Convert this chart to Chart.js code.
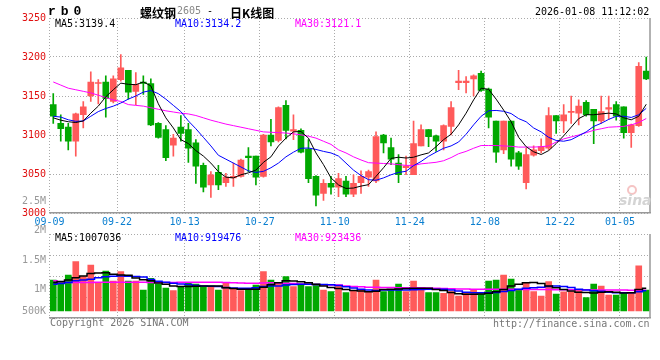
<!DOCTYPE html>
<html lang="zh-CN">
<head>
<meta charset="utf-8">
<title>螺纹钢2605 - 日K线图</title>
<script src="https://cdn.jsdelivr.net/npm/chart.js@4.4.1/dist/chart.umd.min.js"></script>
<style>
  html, body { margin: 0; padding: 0; background: #fff; }
  #quadro { position: relative; width: 660px; height: 360px; overflow: hidden; font-family: "DejaVu Sans Mono", monospace; font-size: 10px; }
  #quadro canvas { position: absolute; left: 0; top: 0; }
  .txt { position: absolute; white-space: pre; line-height: 12px; }
</style>
</head>
<body>
<div id="quadro">
  <canvas id="graficoPreco" width="660" height="360"></canvas>
  <canvas id="graficoVolume" width="660" height="360"></canvas>

  <div class="txt" style="left:48px;top:4px;font:bold 13px 'Liberation Mono';letter-spacing:5px;">rb0</div>
  <div class="txt" style="left:140px;top:4px;font:bold 12px 'Noto Sans CJK SC';">螺纹钢</div>
  <div class="txt" style="left:177px;top:5px;"><span style="color:#888;">2605</span> -</div>
  <div class="txt" style="left:230px;top:4px;font:bold 12px 'Noto Sans CJK SC';">日K线图</div>
  <div class="txt" style="left:535px;top:6px;">2026-01-08 11:12:02</div>

  <div class="txt" style="left:55px;top:18px;color:#000;">MA5:3139.4</div>
  <div class="txt" style="left:175px;top:18px;color:#0000ff;">MA10:3134.2</div>
  <div class="txt" style="left:295px;top:18px;color:#ff00ff;">MA30:3121.1</div>

  <div class="txt" style="left:55px;top:232px;color:#000;">MA5:1007036</div>
  <div class="txt" style="left:175px;top:232px;color:#0000ff;">MA10:919476</div>
  <div class="txt" style="left:295px;top:232px;color:#ff00ff;">MA30:923436</div>

  <div class="txt" style="left:50px;top:317px;color:#777;">Copyright 2026 SINA.COM</div>
  <div class="txt" style="left:493px;top:318px;color:#777;">http://finance.sina.com.cn</div>

  <div style="position:absolute;left:627px;top:185px;width:6px;height:6px;border:2px solid #f5c4c4;border-radius:50%;"></div>
  <div class="txt" style="left:619px;top:192px;font:italic bold 14px 'DejaVu Sans';color:#d4d4d4;">sina</div>
</div>

<script>
// datas dos pregões (eixo x)
const datas = ['09-09','09-10','09-11','09-12','09-15','09-16','09-17','09-18','09-19','09-22','09-23','09-24','09-25','09-26','09-29','09-30',
  '10-09','10-10','10-13','10-14','10-15','10-16','10-17','10-20','10-21','10-22','10-23','10-24','10-27','10-28','10-29','10-30','10-31',
  '11-03','11-04','11-05','11-06','11-07','11-10','11-11','11-12','11-13','11-14','11-17','11-18','11-19','11-20','11-21','11-24','11-25','11-26','11-27','11-28',
  '12-01','12-02','12-03','12-04','12-05','12-08','12-09','12-10','12-11','12-12','12-15','12-16','12-17','12-18','12-19','12-22','12-23','12-24','12-25','12-26','12-29','12-30','12-31',
  '01-05','01-06','01-07','01-08'];

// datas que aparecem como rótulo no eixo
const rotulosEixo = ['09-09','09-22','10-13','10-27','11-10','11-24','12-08','12-22','01-05'];

// cotações diárias
const abertura = [3139,3115,3110,3092,3126,3150,3166,3168,3143,3171,3183,3156,3168,3166,3115,3107,3087,3110,3107,3090,3061,3036,3052,
  3039,3045,3047,3073,3073,3047,3100,3093,3138,3105,3106,3082,3047,3025,3038,3033,3041,3024,3039,3046,3041,3100,3084,3064,3058,3049,3086,3107,3099,
  3092,3111,3167,3167,3172,3179,3159,3118,3081,3118,3077,3039,3074,3080,3083,3125,3118,3129,3128,3142,3133,3118,3133,3139,3136,3103,3112,3182];
const maxima = [3153,3126,3115,3128,3143,3181,3171,3176,3176,3203,3183,3180,3176,3172,3116,3112,3101,3125,3115,3094,3064,3053,3061,
  3051,3064,3069,3084,3073,3101,3120,3136,3144,3126,3108,3094,3048,3043,3047,3051,3047,3049,3054,3055,3104,3101,3096,3075,3073,3118,3113,3107,3100,
  3113,3143,3183,3175,3177,3182,3160,3118,3118,3118,3079,3083,3086,3095,3135,3125,3139,3150,3145,3144,3133,3150,3150,3143,3136,3114,3193,3200];
const minima = [3115,3092,3081,3073,3109,3143,3140,3123,3141,3169,3146,3139,3152,3112,3096,3067,3073,3092,3065,3038,3027,3020,3030,
  3034,3034,3046,3053,3036,3046,3086,3091,3095,3094,3077,3039,3009,3016,3024,3021,3021,3021,3025,3034,3039,3077,3062,3039,3049,3049,3086,3085,3079,
  3081,3100,3158,3154,3150,3156,3109,3065,3076,3060,3056,3031,3073,3077,3081,3102,3103,3115,3113,3124,3089,3115,3120,3119,3096,3084,3111,3171];
const fechamento = [3124,3108,3092,3127,3136,3168,3167,3147,3172,3186,3155,3165,3166,3113,3097,3071,3096,3102,3083,3060,3033,3049,3036,
  3046,3047,3068,3071,3046,3100,3091,3135,3106,3107,3078,3044,3023,3038,3033,3044,3024,3038,3047,3053,3098,3090,3069,3049,3060,3089,3107,3098,3092,
  3112,3135,3169,3169,3176,3157,3123,3078,3118,3069,3060,3075,3081,3085,3125,3118,3126,3130,3137,3126,3118,3130,3135,3124,3103,3113,3188,3172];

// médias móveis do preço
const ma5 = [3122,3119,3117,3116,3118,3128,3137,3149,3158,3166.5,3165,3164.5,3168,3163,3140,3122,3109,3094,3089,3080,3073,3064,3053,
  3046,3045,3049,3051.5,3055,3065,3072,3086,3096,3104,3104.5,3096,3077,3062,3045,3036,3031.5,3032,3034.5,3036.3,3047,3058,3070,3071.5,3070.5,3071.5,3074.5,3077,3085,
  3094,3101,3113,3128,3145,3160,3158.5,3146,3132,3117,3097,3085,3078.5,3075,3080,3089,3099,3110,3121,3126,3126,3127,3128,3127,3122,3119.5,3124,3139.4];
const ma10 = [3124,3123,3119.5,3117.5,3118,3124,3130,3134,3137,3141,3146,3150,3155,3157,3153,3146,3138,3130,3118,3108,3097,3086,3074,
  3069,3064,3059,3054,3052,3053.4,3058,3064,3072,3078,3083,3083.3,3081.5,3079,3077,3073,3064,3055,3048,3042.7,3042,3045,3049,3052,3053.5,3060.7,3066,3072.7,3078,
  3083,3086,3091,3101,3113,3124,3131,3131.5,3130.4,3127.5,3121,3117,3109,3104,3097,3093,3092,3094,3099,3104,3111,3115,3120,3124,3124,3122.5,3126,3134.2];
const ma30 = [3168,3164,3160,3158,3156,3154,3151,3148,3145,3143,3139,3138,3137,3135,3133,3131,3129.5,3128,3127,3125,3122,3119,3116.5,
  3114,3112,3110,3108,3106,3104,3103.5,3103,3102.5,3101.5,3100.2,3098.5,3096,3092,3088,3081,3077,3072,3068,3064.5,3064,3063.5,3063,3062,3061,3061,3063,3064,3065,
  3067,3071,3076,3079,3083,3086.5,3086.5,3086.5,3086,3085.5,3084.5,3084.5,3084.5,3085,3086,3091,3095,3097.5,3100,3103,3106,3108,3110,3110.5,3111,3113,3116,3121.1];

// volume (em milhares de lotes) e suas médias
const volume = [1161,1133,1246,1472,1218,1415,1121,1314,1144,1302,1144,1144,992,1189,1093,1025,980,1054,1121,1093,1048,1048,992,
  1116,1020,980,1003,1076,1302,1161,1121,1218,1048,1093,1048,1076,992,963,1076,946,980,1003,963,1161,963,1003,1093,963,1144,1037,946,946,
  935,963,890,935,1003,924,1144,1161,1246,1178,1003,1121,963,890,1133,924,960,965,990,862,1093,1060,907,907,935,940,1403,992];
const volMa5 = [1120,1135,1160,1200,1230,1270,1280,1285,1260,1245,1240,1195,1165,1150,1110,1090,1060,1050,1050,1055,1060,1060,1060,
  1030,1015,1003,1003,1003,1040,1080,1115,1150,1144,1130,1115,1090,1060,1035,1015,1000,985,975,960,970,1000,1003,1010,1015,1020,1020,1020,1000,
  985,950,930,920,918,925,935,960,1000,1060,1090,1115,1120,1100,1060,1030,1000,975,953,950,940,955,963,955,940,945,1000,1020];
const volMa10 = [1090,1100,1120,1150,1160,1175,1200,1215,1225,1230,1225,1220,1210,1170,1140,1125,1105,1095,1085,1070,1060,1055,1050,
  1035,1025,1020,1022,1028,1050,1058,1060,1075,1085,1088,1088,1085,1085,1080,1070,1045,1025,1003,990,982,990,990,990,990,995,1000,1005,1005,
  1003,990,975,955,947,946,946,950,965,985,1005,1020,1030,1037,1050,1060,1050,1035,1005,990,980,972,955,946,946,946,960,980];
const volMa30 = [1150,1130,1120,1120,1120,1120,1121,1121,1121,1121,1121,1121,1121,1120,1120,1120,1120,1121,1121,1121,1121,1121,1121,
  1120,1115,1110,1105,1105,1110,1115,1110,1105,1100,1095,1090,1085,1080,1078,1075,1060,1050,1045,1040,1037,1035,1032,1030,1030,1030,1030,1025,1020,
  1015,1012,1010,1008,1006,1005,1004,1003,1003,1003,1002,1001,1000,1000,999,998,997,996,995,994,993,992,991,990,990,989,988,988];

// faixa do eixo de volume e marcas de texto
const volMin = 517;
const volMax = 1941;
const volBase = 636;
const marcasVolume = [2500, 2000, 1500, 1000, 500];
const textosVolume = ['2.5M', '2M', '1.5M', '1M', '500K'];

const vermelho = '#ff5a5a';
const verde = '#00a800';
const cores = abertura.map((a, i) => fechamento[i] >= a ? vermelho : verde);
const corpos = abertura.map((a, i) => [a, fechamento[i]]);
const pavios = minima.map((m, i) => [m, maxima[i]]);

Chart.defaults.font.family = '"DejaVu Sans Mono", monospace';
Chart.defaults.font.size = 10;

// grade vertical só nas datas com rótulo
function corGradeX(ctx) {
  return rotulosEixo.includes(datas[ctx.index]) ? '#aaa' : 'transparent';
}

// linha cheia na borda direita do painel
const molduraDireita = {
  id: 'molduraDireita',
  afterDraw(chart) {
    const { ctx, chartArea } = chart;
    ctx.save();
    ctx.strokeStyle = '#999';
    ctx.lineWidth = 1.5;
    ctx.beginPath();
    ctx.moveTo(chartArea.right, chartArea.top);
    ctx.lineTo(chartArea.right, chartArea.bottom);
    ctx.stroke();
    ctx.restore();
  }
};

// textos do eixo de volume
const rotulosVolume = {
  id: 'rotulosVolume',
  afterDraw(chart) {
    const { ctx, chartArea } = chart;
    const escala = chart.scales.y;
    ctx.save();
    ctx.font = '10px "DejaVu Sans Mono"';
    ctx.fillStyle = '#999';
    ctx.textAlign = 'right';
    ctx.textBaseline = 'middle';
    marcasVolume.forEach((v, i) => {
      const y = Math.min(escala.getPixelForValue(v), chartArea.bottom - 7);
      ctx.fillText(textosVolume[i], chartArea.left - 3.5, y);
    });
    ctx.restore();
  }
};

function linha(dados, cor, extra) {
  return Object.assign({ type: 'line', data: dados, borderColor: cor, borderWidth: 1, pointRadius: 0, tension: 0, fill: false }, extra);
}

const graficoPreco = new Chart(document.getElementById('graficoPreco'), {
  type: 'bar',
  data: {
    labels: datas,
    datasets: [
      linha(ma5, '#000000'),
      linha(ma10, '#0000ff'),
      linha(ma30, '#ff00ff'),
      { label: 'corpo', data: corpos, backgroundColor: cores, barThickness: 6, grouped: false, minBarLength: 1 },
      { label: 'pavio', data: pavios, backgroundColor: cores, barThickness: 1, grouped: false }
    ]
  },
  options: {
    responsive: false,
    animation: false,
    events: [],
    layout: { padding: { top: 18, right: 10, left: 0, bottom: 0 } },
    plugins: { legend: { display: false }, tooltip: { enabled: false } },
    scales: {
      x: {
        offset: true,
        grid: { offset: true, drawTicks: false, color: corGradeX },
        border: { display: true, color: '#999', width: 1.5, dash: [1, 2] },
        ticks: {
          autoSkip: false, maxRotation: 0, padding: 3, labelOffset: -3.75, color: '#0a7fd0',
          callback: function (valor) { const r = this.getLabelForValue(valor); return rotulosEixo.includes(r) ? r : ''; }
        },
        afterFit: (s) => { s.height = 147; }
      },
      y: {
        min: 3000, max: 3250,
        ticks: { stepSize: 50, color: '#e01010', padding: 3.5, callback: (v) => String(v) },
        grid: { drawTicks: false, color: '#aaa' },
        border: { display: false, dash: [1, 2] },
        afterFit: (s) => { s.width = 49.5; }
      }
    }
  },
  plugins: [molduraDireita]
});

const graficoVolume = new Chart(document.getElementById('graficoVolume'), {
  type: 'bar',
  data: {
    labels: datas,
    datasets: [
      linha(volMa5, '#000000', { borderWidth: 1.5, stepped: 'middle' }),
      linha(volMa10, '#0000ff', { borderWidth: 1.5, stepped: 'middle' }),
      linha(volMa30, '#ff00ff', { borderWidth: 1.5, stepped: 'middle' }),
      { label: 'volume', data: volume, base: volBase, backgroundColor: cores, barThickness: 6 }
    ]
  },
  options: {
    responsive: false,
    animation: false,
    events: [],
    layout: { padding: { top: 234, right: 10, left: 0, bottom: 0 } },
    plugins: { legend: { display: false }, tooltip: { enabled: false } },
    scales: {
      x: {
        offset: true,
        grid: { offset: true, drawTicks: false, color: corGradeX },
        border: { display: true, color: '#999', width: 1.5, dash: [1, 2] },
        ticks: { display: false },
        afterFit: (s) => { s.height = 42; }
      },
      y: {
        min: volMin, max: volMax,
        ticks: { display: false },
        grid: { drawTicks: false, color: '#aaa' },
        border: { display: false, dash: [1, 2] },
        afterBuildTicks: (s) => { s.ticks = [0, 1, 2, 3, 4].map(k => ({ value: volMax - k * (volMax - volMin) / 4 })); },
        afterFit: (s) => { s.width = 49.5; }
      }
    }
  },
  plugins: [molduraDireita, rotulosVolume]
});
</script>
</body>
</html>
